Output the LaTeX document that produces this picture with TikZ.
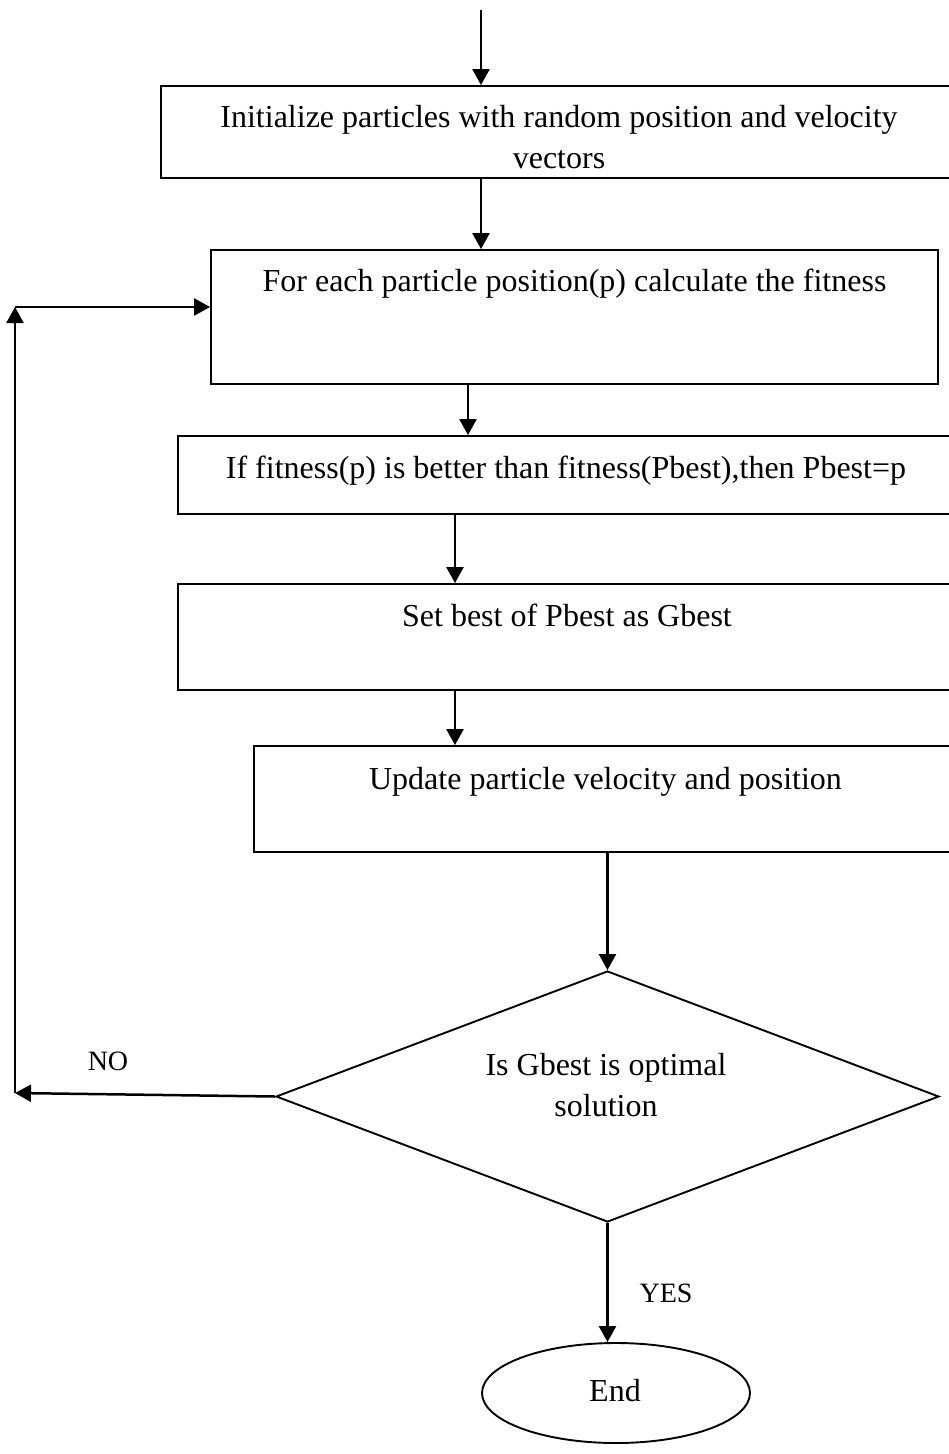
\documentclass[tikz,border=0pt]{standalone}
\usepackage{fontspec}
\setmainfont{Liberation Serif}
\usetikzlibrary{shapes.geometric,arrows.meta}
\begin{document}
\begin{tikzpicture}[x=1pt,y=-1pt,
  boxshape/.style={draw,line width=1.9pt,rectangle,inner sep=0pt},
  txt/.style={inner sep=0pt,font=\fontsize{32}{41}\selectfont,align=center},
  lbl/.style={inner sep=0pt,font=\fontsize{28}{34}\selectfont},
  arr/.style={line width=2.5pt,-{Triangle[length=16pt,width=17pt]}}]
\useasboundingbox (0,0) rectangle (948,1454);
% boxes (right edges run off the page, as in the reference)
\node[boxshape,minimum width=820pt,minimum height=92pt] (b1) at (571,132) {};
\node[boxshape,minimum width=727pt,minimum height=134pt] (b2) at (574.5,317) {};
\node[boxshape,minimum width=800pt,minimum height=78pt] (b3) at (578,475) {};
\node[boxshape,minimum width=800pt,minimum height=106pt] (b4) at (578,637) {};
\node[boxshape,minimum width=724pt,minimum height=106pt] (b5) at (616,799) {};
\node[draw,line width=1.9pt,diamond,inner sep=0pt,minimum width=663pt,minimum height=251pt] (d) at (607.5,1096.5) {};
\node[draw,line width=1.9pt,ellipse,inner sep=0pt,minimum width=268pt,minimum height=100pt] (e) at (616,1393) {};
% texts
\node[txt] (t1) at (559,137) {Initialize particles with random position and velocity\\vectors};
\node[txt,anchor=base] (t2) at (574.5,291) {For each particle position(p) calculate the fitness};
\node[txt,anchor=base] (t3) at (566,478) {If fitness(p) is better than fitness(Pbest),then Pbest=p};
\node[txt,anchor=base] (t4) at (567,626) {Set best of Pbest as Gbest};
\node[txt,anchor=base] (t5) at (605.5,789) {Update particle velocity and position};
\node[txt] (t6) at (606,1085) {Is Gbest is optimal\\solution};
\node[txt,anchor=base] (t7) at (615,1401) {End};
\node[lbl,anchor=base] (no) at (108,1070) {NO};
\node[lbl,anchor=base] (yes) at (666,1302) {YES};
% connectors
\coordinate (top) at (481,10);
\coordinate (xa) at (468,0);
\coordinate (xb) at (455,0);
\coordinate (nl) at (15,1093);
\coordinate (nt) at (15,307);
\draw[arr] (top) -- (top |- b1.north);
\draw[arr] (b1.south -| top) -- (b2.north -| top);
\draw[arr] (b2.south -| xa) -- (b3.north -| xa);
\draw[arr] (b3.south -| xb) -- (b4.north -| xb);
\draw[arr] (b4.south -| xb) -- (b5.north -| xb);
\draw[arr] (b5.south -| d.north) -- (d.north);
\draw[arr] (d.west) -- (nl);
\draw[arr] (nl) -- (nt);
\draw[arr] (nt) -- (nt -| b2.west);
\draw[arr] (d.south) -- (d.south |- e.north);
\end{tikzpicture}
\end{document}
